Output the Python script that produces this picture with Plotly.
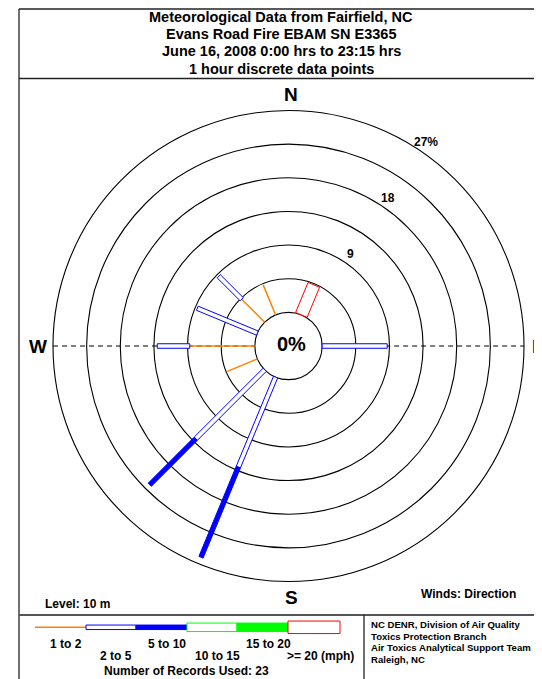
import math
import plotly.graph_objects as go

# ---------------- data ----------------
directions = ["N", "NNE", "NE", "ENE", "E", "ESE", "SE", "SSE",
              "S", "SSW", "SW", "WSW", "W", "WNW", "NW", "NNW"]
bearings = [0, 22.5, 45, 67.5, 90, 112.5, 135, 157.5,
            180, 202.5, 225, 247.5, 270, 292.5, 315, 337.5]

# percent of records per direction for each wind-speed class
pct_1_2 = [0, 0, 0, 0, 0, 0, 0, 0, 0, 0, 0, 4.35, 8.70, 0, 4.35, 4.35]
pct_2_5 = [0, 0, 0, 0, 8.70, 0, 0, 0, 0, 13.04, 13.04, 0, 4.35, 8.70, 4.35, 0]
pct_5_10 = [0, 0, 0, 0, 0, 0, 0, 0, 0, 13.04, 8.70, 0, 0, 0, 0, 0]
pct_10_15 = [0] * 16
pct_15_20 = [0] * 16
pct_20_up = [0, 4.35, 0, 0, 0, 0, 0, 0, 0, 0, 0, 0, 0, 0, 0, 0]

speed_labels = ["1 to 2", "2 to 5", "5 to 10", "10 to 15", "15 to 20", ">= 20 (mph)"]
ring_values = [4.5, 9, 13.5, 18, 22.5, 27]
ring_label_values = [9, 18, 27]
ring_label_texts = ["9", "18", "27%"]
calm_label = "0%"
records_used = 23

title_lines = ["Meteorological Data from Fairfield, NC",
               "Evans Road Fire EBAM SN E3365",
               "June 16, 2008 0:00 hrs to 23:15 hrs",
               "1 hour discrete data points"]
credit_lines = ["NC DENR, Division of Air Quality",
                "Toxics Protection Branch",
                "Air Toxics Analytical Support Team",
                "Raleigh, NC"]

# ---------------- layout constants ----------------
PAGE_W, PAGE_H = 542, 679
OFF = 8                          # default page margin around the figure
W, H = PAGE_W - OFF, PAGE_H - OFF
CX, CY = 288.5, 346.0            # rose centre in page px
HOLE = 4.5                       # calm circle radius in percent units
SCALE = 235.5 / (HOLE + ring_values[-1])   # px per percent unit
FONT = "Liberation Sans, Arial, sans-serif"

ORANGE = "#FF8000"
BLUE = "#0000FF"
GREEN = "#00FF00"
RED = "#FF0000"

classes = [
    dict(vals=pct_1_2, kind="line", color=ORANGE, w=1.5),
    dict(vals=pct_2_5, kind="hollow", color=BLUE, w=4.5),
    dict(vals=pct_5_10, kind="filled", color=BLUE, w=4.5),
    dict(vals=pct_10_15, kind="hollow", color=GREEN, w=8.5),
    dict(vals=pct_15_20, kind="filled", color=GREEN, w=8.5),
    dict(vals=pct_20_up, kind="hollow", color=RED, w=12.5),
]


def px(x):
    return (x - OFF) / W


def py(y):
    return 1 - (y - OFF) / H


fig = go.Figure()

# ---------------- bars ----------------
base = [HOLE] * 16
for cls in classes:
    xs, ys = [], []
    for i, b in enumerate(bearings):
        p = cls["vals"][i]
        if p <= 0:
            continue
        r0, r1 = base[i], base[i] + p
        base[i] = r1
        t = math.radians(b)
        ux, uy = math.sin(t), math.cos(t)
        if cls["kind"] == "line":
            xs += [r0 * ux, r1 * ux, None]
            ys += [r0 * uy, r1 * uy, None]
        else:
            hw = cls["w"] / 2 / SCALE
            nx, ny = math.cos(t), -math.sin(t)
            pts = [(r0 * ux + hw * nx, r0 * uy + hw * ny),
                   (r1 * ux + hw * nx, r1 * uy + hw * ny),
                   (r1 * ux - hw * nx, r1 * uy - hw * ny),
                   (r0 * ux - hw * nx, r0 * uy - hw * ny),
                   (r0 * ux + hw * nx, r0 * uy + hw * ny)]
            xs += [q[0] for q in pts] + [None]
            ys += [q[1] for q in pts] + [None]
    if not xs:
        continue
    if cls["kind"] == "line":
        fig.add_trace(go.Scatter(x=xs, y=ys, mode="lines",
                                 line=dict(color=cls["color"], width=cls["w"]),
                                 hoverinfo="skip", showlegend=False))
    else:
        fig.add_trace(go.Scatter(x=xs, y=ys, mode="lines", fill="toself",
                                 fillcolor="white" if cls["kind"] == "hollow" else cls["color"],
                                 line=dict(color=cls["color"], width=1),
                                 hoverinfo="skip", showlegend=False))

shapes = []
# rings (incl. calm circle)
for r in [HOLE] + [HOLE + v for v in ring_values]:
    shapes.append(dict(type="circle", xref="x", yref="y", x0=-r, x1=r, y0=-r, y1=r,
                       line=dict(color="black", width=1.1), layer="below"))
# W-E dashed line
R_OUT = HOLE + ring_values[-1]
for a, b in [(-R_OUT, -HOLE), (HOLE, R_OUT)]:
    shapes.append(dict(type="line", xref="x", yref="y", x0=a, x1=b, y0=0, y1=0,
                       line=dict(color="black", width=1, dash="5px,4px"), layer="below"))

# frame
frame_col = "#222222"
shapes += [
    dict(type="line", xref="paper", yref="paper", x0=px(19), x1=px(545), y0=py(9), y1=py(9),
         line=dict(color=frame_col, width=1.3)),
    dict(type="line", xref="paper", yref="paper", x0=px(19), x1=px(19), y0=py(9), y1=py(682),
         line=dict(color=frame_col, width=1.3)),
    dict(type="line", xref="paper", yref="paper", x0=px(19), x1=px(545), y0=py(78.5), y1=py(78.5),
         line=dict(color=frame_col, width=1.3)),
    dict(type="line", xref="paper", yref="paper", x0=px(19), x1=px(545), y0=py(615), y1=py(615),
         line=dict(color="#555555", width=2)),
    dict(type="line", xref="paper", yref="paper", x0=px(364), x1=px(364), y0=py(615), y1=py(682),
         line=dict(color=frame_col, width=1.3)),
]

# legend swatches
LY = 627.3
seg = [(35, 86), (86, 136), (136, 187), (187, 237), (237, 288), (288, 340)]
for cls, (a, b) in zip(classes, seg):
    if cls["kind"] == "line":
        shapes.append(dict(type="line", xref="paper", yref="paper", x0=px(a), x1=px(b),
                           y0=py(LY), y1=py(LY), line=dict(color=cls["color"], width=1.5)))
    else:
        h = cls["w"] / 2
        shapes.append(dict(type="rect", xref="paper", yref="paper", x0=px(a), x1=px(b),
                           y0=py(LY - h), y1=py(LY + h),
                           fillcolor="white" if cls["kind"] == "hollow" else cls["color"],
                           line=dict(color=cls["color"], width=1)))

ann = []


def text(x, y, s, size, xanchor="center", xref="paper", yref="paper"):
    ann.append(dict(x=x, y=y, xref=xref, yref=yref, text="<b>" + s + "</b>", showarrow=False,
                    xanchor=xanchor, yanchor="middle",
                    font=dict(family=FONT, size=size, color="black")))


# title
for k, line in enumerate(title_lines):
    text(px(281), py(17 + k * 17.2), line, 14.5)

# compass labels (N, S, W at the rose; E sits at the page edge)
for lab, b, dx in [("N", 0, 2), ("S", 180, 3), ("W", 270, 1)]:
    t = math.radians(b)
    rr = 33.6
    text(rr * math.sin(t) + dx / SCALE, rr * math.cos(t), lab, 19, xref="x", yref="y")
text(px(529.5), py(CY), "E", 19, xanchor="left")

# calm label
text(3 / SCALE, 2 / SCALE, calm_label, 20, xref="x", yref="y")

# ring labels
for v, s in zip(ring_label_values, ring_label_texts):
    t = math.radians(34)
    rr = HOLE + v + 1.4
    text(rr * math.sin(t), rr * math.cos(t), s, 12, xref="x", yref="y")

text(px(43), py(604), "Level: 10 m", 12, xanchor="left")
text(px(468), py(593.5), "Winds: Direction", 12)

# legend labels
leg_pos = [(65.5, 644), (115.8, 656), (166.8, 644), (217.5, 656), (268, 644), (320.8, 656)]
for s, (x, y) in zip(speed_labels, leg_pos):
    text(px(x), py(y), s, 12)
text(px(186), py(671), "Number of Records Used: %d" % records_used, 12)

for k, line in enumerate(credit_lines):
    text(px(369), py(624.5 + k * 11.7), line, 9.6, xanchor="left")

fig.update_layout(
    width=W, height=H, autosize=False,
    margin=dict(l=0, r=0, t=0, b=0, pad=0, autoexpand=False),
    paper_bgcolor="white", plot_bgcolor="white",
    xaxis=dict(range=[-(CX - OFF) / SCALE, (PAGE_W - CX) / SCALE], visible=False, fixedrange=True),
    yaxis=dict(range=[-(PAGE_H - CY) / SCALE, (CY - OFF) / SCALE], visible=False, fixedrange=True),
    shapes=shapes, annotations=ann, showlegend=False, hovermode=False,
)

fig.write_html("out.html")
